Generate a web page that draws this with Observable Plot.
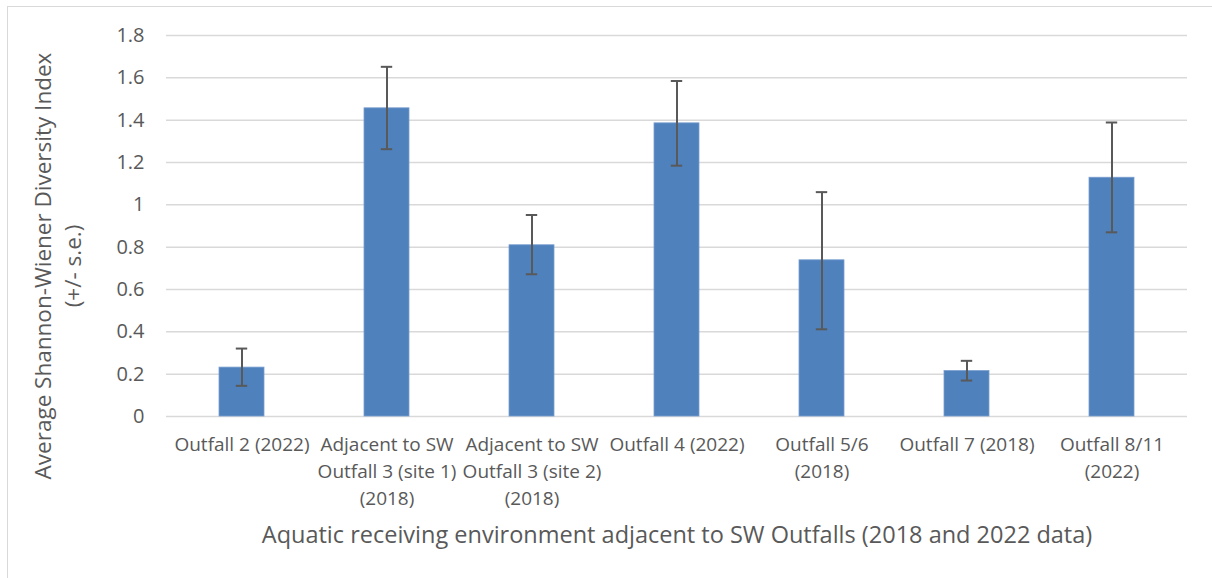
<!DOCTYPE html>
<html>
<head>
<meta charset="utf-8">
<script src="https://cdn.jsdelivr.net/npm/d3@7"></script>
<script src="https://cdn.jsdelivr.net/npm/@observablehq/plot@0.6"></script>
<style>
  html, body { margin: 0; padding: 0; background: #fff; }
  #wrap { position: relative; width: 1212px; height: 578px; overflow: hidden; }
  #frame { position: absolute; left: 7px; top: 6px; width: 1300px; height: 700px; border-top: 1.5px solid #d9d9d9; border-left: 1.5px solid #d9d9d9; box-sizing: border-box; }
  #chart { position: absolute; left: 0; top: 0; }
</style>
</head>
<body>
<div id="wrap"><div id="frame"></div><div id="chart"></div></div>
<script>
const categories = [
  "Outfall 2 (2022)",
  "Adjacent to SW\nOutfall 3 (site 1)\n(2018)",
  "Adjacent to SW\nOutfall 3 (site 2)\n(2018)",
  "Outfall 4 (2022)",
  "Outfall 5/6\n(2018)",
  "Outfall 7 (2018)",
  "Outfall 8/11\n(2022)"
];
const means = [0.231, 1.456, 0.809, 1.385, 0.738, 0.215, 1.128];
const upper = [0.321, 1.652, 0.952, 1.585, 1.060, 0.263, 1.389];
const lower = [0.145, 1.263, 0.672, 1.185, 0.412, 0.170, 0.870];
const yTicks = [0, 0.2, 0.4, 0.6, 0.8, 1, 1.2, 1.4, 1.6, 1.8];

const data = categories.map((c, i) => ({cat: c, mean: means[i], hi: upper[i], lo: lower[i]}));

const font = "'Open Sans', sans-serif";
const txt = "#595959";

const chart = Plot.plot({
  width: 1212,
  height: 578,
  marginLeft: 166,
  marginRight: 25,
  marginTop: 35,
  marginBottom: 162,
  style: {fontFamily: font, color: txt, background: "transparent"},
  x: {domain: categories, paddingInner: 0.688, paddingOuter: 0.344, label: null},
  y: {domain: [0, 1.8], label: null},
  marks: [
    Plot.gridY(yTicks, {stroke: "#d9d9d9", strokeOpacity: 1, strokeWidth: 1.5}),
    Plot.barY(data, {x: "cat", y: "mean", fill: "#4f81bd", stroke: "#7a9fcf", strokeWidth: 0.8}),
    Plot.ruleX(data, {x: "cat", y1: "lo", y2: "hi", stroke: "#595959", strokeWidth: 2}),
    Plot.tickY(data, {x: "cat", y: "hi", stroke: "#595959", strokeWidth: 2, insetLeft: 16.8, insetRight: 16.8}),
    Plot.tickY(data, {x: "cat", y: "lo", stroke: "#595959", strokeWidth: 2, insetLeft: 16.8, insetRight: 16.8}),
    Plot.axisY(yTicks, {tickSize: 0, tickPadding: 22, fontSize: 20, fill: txt, tickFormat: d => String(d), label: null}),
    Plot.axisX({tickSize: 0, tickPadding: 16, fontSize: 19, fill: txt, lineHeight: 1.4, label: null}),
    Plot.text(["Aquatic receiving environment adjacent to SW Outfalls (2018 and 2022 data)"], {
      frameAnchor: "bottom", lineAnchor: "middle", dy: 119, fontSize: 23.5, fill: txt
    }),
    Plot.text(["Average Shannon-Wiener Diversity Index\n(+/- s.e.)"], {
      frameAnchor: "left", textAnchor: "middle", lineAnchor: "middle", dx: -110, dy: 40, rotate: -90, fontSize: 22.5, fill: txt, lineHeight: 1.3
    })
  ]
});
document.getElementById("chart").appendChild(chart);
</script>
</body>
</html>
